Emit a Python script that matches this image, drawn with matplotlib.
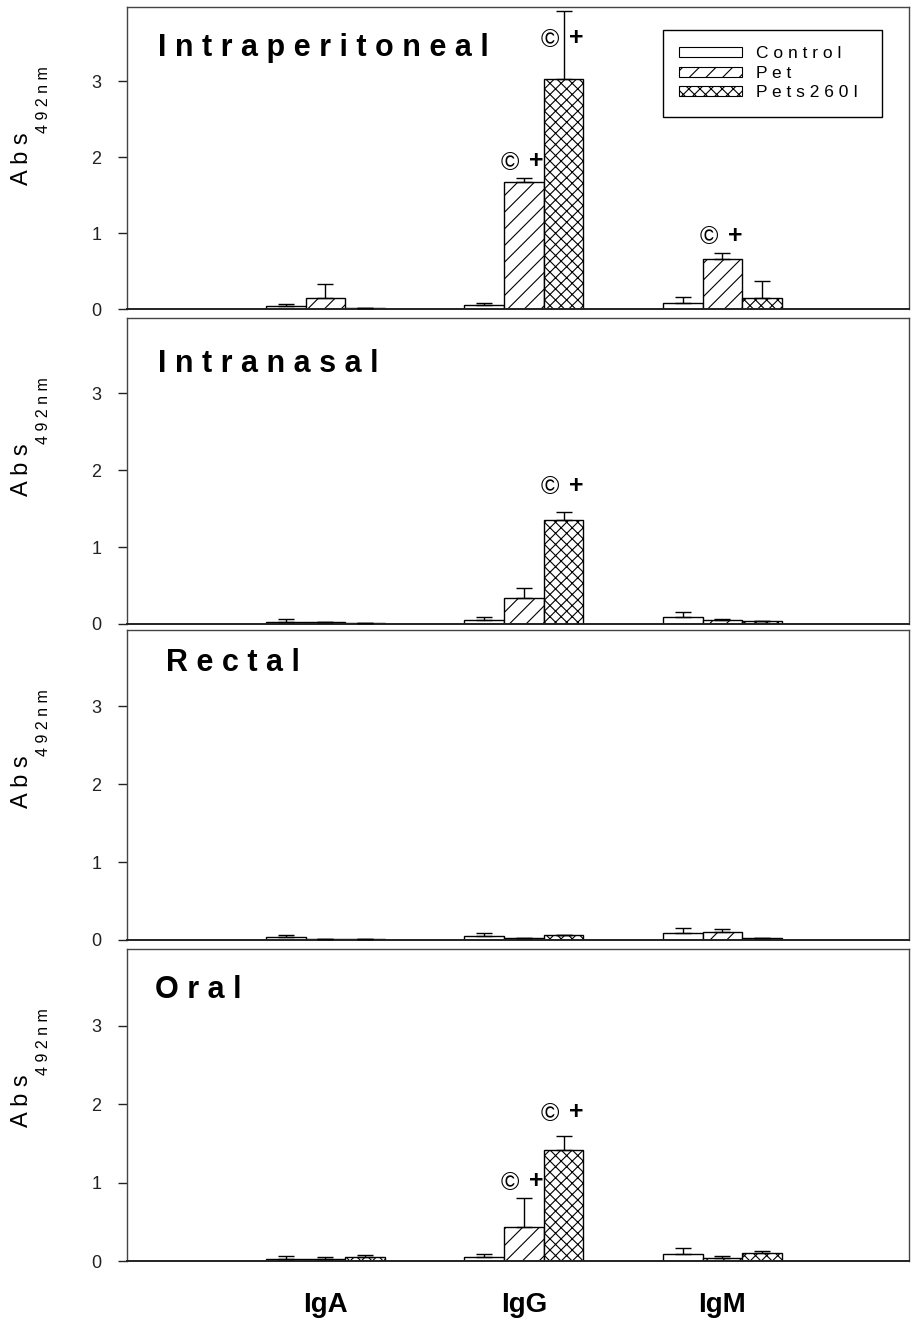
import numpy as np
import matplotlib
matplotlib.use('Agg')
import matplotlib.pyplot as plt
from matplotlib.patches import Patch

plt.rcParams['font.family'] = ['Liberation Sans', 'DejaVu Sans']
plt.rcParams['hatch.linewidth'] = 0.8

groups = ['IgA', 'IgG', 'IgM']
series = ['Control', 'Pet', 'Pets260I']
routes = ['Intraperitoneal', 'Intranasal', 'Rectal', 'Oral']

# rows = Control, Pet, Pets260I ; cols = IgA, IgG, IgM
ip_mean = [[0.035, 0.05, 0.085], [0.15, 1.67, 0.66], [0.01, 3.03, 0.15]]
ip_err = [[0.025, 0.035, 0.075], [0.18, 0.05, 0.08], [0.005, 0.90, 0.22]]
in_mean = [[0.03, 0.05, 0.09], [0.02, 0.34, 0.05], [0.01, 1.35, 0.04]]
in_err = [[0.03, 0.035, 0.065], [0.01, 0.13, 0.02], [0.005, 0.11, 0.005]]
re_mean = [[0.035, 0.05, 0.085], [0.01, 0.02, 0.10], [0.01, 0.06, 0.02]]
re_err = [[0.025, 0.035, 0.07], [0.005, 0.005, 0.04], [0.005, 0.01, 0.01]]
or_mean = [[0.03, 0.05, 0.085], [0.027, 0.43, 0.035], [0.05, 1.41, 0.10]]
or_err = [[0.03, 0.035, 0.075], [0.023, 0.37, 0.025], [0.03, 0.18, 0.03]]

means = [ip_mean, in_mean, re_mean, or_mean]
errs = [ip_err, in_err, re_err, or_err]

# significance marks: (route, group, series, y of text)
marks = [(0, 1, 1, 1.93), (0, 1, 2, 3.55), (0, 2, 1, 0.95),
         (1, 1, 2, 1.78), (3, 1, 1, 1.00), (3, 1, 2, 1.88)]

hatches = ['', '//', 'xxx']
width = 0.2

def spaced(s):
    return ' '.join(s)

fig = plt.figure(figsize=(9.11, 13.44), dpi=100)

# panel boxes in pixels: top, bottom
boxes = [(7, 309), (318, 624), (630, 940), (949, 1261)]
title_x = [0.04, 0.04, 0.05, 0.036]
title_y = [0.864, 0.85, 0.894, 0.87]
W, H = 911.0, 1344.0
left, right = 127, 909

axes = []
x = np.arange(len(groups))
for r, (top, bot) in enumerate(boxes):
    h = bot - top
    ax = fig.add_axes([left / W, 1 - bot / H, (right - left) / W, h / H])
    axes.append(ax)
    m = np.array(means[r])
    e = np.array(errs[r])
    for s in range(len(series)):
        xs = x + (s - 1) * width
        ax.bar(xs, m[s], width, color='white', edgecolor='black', linewidth=1,
               hatch=hatches[s], zorder=2)
        ax.errorbar(xs, m[s], yerr=[np.zeros(3), e[s]], fmt='none', ecolor='black',
                    elinewidth=1, capsize=6, capthick=1, zorder=3)
    ax.set_xlim(-1.0, 2.94)
    ax.set_ylim(0, 3.98)
    ax.set_yticks([0, 1, 2, 3])
    ax.tick_params(axis='y', labelsize=13, length=6.5, width=1, pad=12, colors='#222222')
    ax.tick_params(axis='x', length=0)
    for sp in ax.spines.values():
        sp.set_color('#444444')
        sp.set_linewidth(1.0)
    ax.spines['bottom'].set_linewidth(1.4)
    ax.spines['bottom'].set_color('#222222')
    # y label: "Abs" with a dropped "492nm" subscript
    ax.set_ylabel(spaced('Abs'), fontsize=17, ha='center', va='center')
    ax.yaxis.set_label_coords(-0.134, 1 - 152 / h)
    ax.text(-0.107, 1 - 93 / h, spaced('492nm'), transform=ax.transAxes,
            rotation=90, fontsize=11.5, ha='center', va='center')
    ax.text(title_x[r], title_y[r], spaced(routes[r]), transform=ax.transAxes,
            fontsize=22, fontweight='bold', ha='left', va='center')
    if r < 3:
        ax.set_xticks([])
    else:
        ax.set_xticks(x)
        ax.set_xticklabels(groups, fontsize=20, fontweight='bold')
        ax.tick_params(axis='x', pad=22)

for r, g, s, y in marks:
    ax = axes[r]
    xc = g + (s - 1) * width
    ax.annotate('\u00a9', xy=(xc, y), xytext=(-10, 0), textcoords='offset points',
                ha='center', va='center', fontsize=18)
    ax.annotate('+', xy=(xc, y), xytext=(9, 1), textcoords='offset points',
                ha='center', va='center', fontsize=18, fontweight='bold')

handles = [Patch(facecolor='white', edgecolor='black', hatch=hh, linewidth=0.8) for hh in hatches]
leg = axes[0].legend(handles, [spaced(s) for s in series], loc='upper left',
                     bbox_to_anchor=(0.685, 0.5, 0.28, 0.424), mode='expand',
                     borderaxespad=0, fontsize=12.5,
                     handlelength=3.6, handleheight=0.5, handletextpad=0.8,
                     labelspacing=0.25, borderpad=0.95, fancybox=False, framealpha=1)
leg.get_frame().set_edgecolor('black')
leg.get_frame().set_linewidth(1.0)

fig.savefig('out.png', dpi=100)
